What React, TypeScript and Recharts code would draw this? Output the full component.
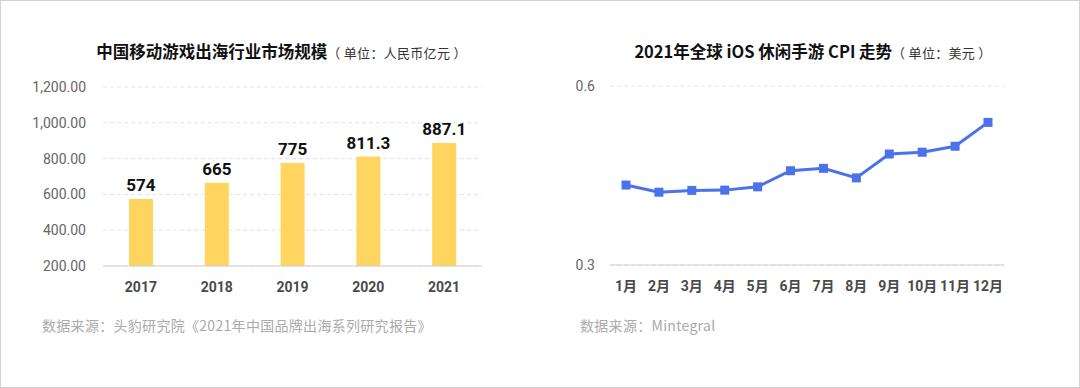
import React from "react";
import { BarChart, Bar, XAxis, YAxis, CartesianGrid, LabelList, LineChart, Line } from "recharts";

const years = ["2017", "2018", "2019", "2020", "2021"];
const marketSize = [574, 665, 775, 811.3, 887.1];
const marketTicks = [200, 400, 600, 800, 1000, 1200];

const months = ["1月", "2月", "3月", "4月", "5月", "6月", "7月", "8月", "9月", "10月", "11月", "12月"];
const cpi = [0.434, 0.422, 0.425, 0.4255, 0.431, 0.458, 0.462, 0.446, 0.486, 0.489, 0.499, 0.539];
const cpiTicks = [0.3, 0.6];

const barData = years.map((y, i) => ({ year: y, value: marketSize[i] }));
const lineData = months.map((m, i) => ({ month: m, value: cpi[i] }));

const CJK = "'Noto Sans CJK SC', 'Noto Sans', sans-serif";
const NUM = "Roboto, 'Noto Sans CJK SC', sans-serif";

const fmt = (v: number) =>
  v.toLocaleString("en-US", { minimumFractionDigits: 2, maximumFractionDigits: 2 });

const Square = (props: any) => {
  const { cx, cy } = props;
  if (cx == null || cy == null) return null;
  return <rect x={cx - 4.5} y={cy - 4.5} width={9} height={9} fill="#4a72ea" />;
};

export default function App() {
  return (
    <div
      style={{
        position: "absolute",
        left: 0,
        top: 0,
        width: 1080,
        height: 388,
        boxSizing: "border-box",
        border: "1px solid #d2d2d2",
        background: "#fff",
        fontFamily: CJK,
        overflow: "hidden",
      }}
    >
      {/* Left title */}
      <div
        style={{
          position: "absolute",
          left: 0,
          width: 561,
          top: 39,
          textAlign: "center",
          whiteSpace: "nowrap",
          lineHeight: "22px",
        }}
      >
        <span style={{ fontSize: 16.5, fontWeight: 700, color: "#111" }}>中国移动游戏出海行业市场规模</span>
        <span style={{ fontSize: 13, color: "#333", letterSpacing: 0.3 }}>（ 单位：人民币亿元 ）</span>
      </div>
      {/* Right title */}
      <div
        style={{
          position: "absolute",
          left: 540,
          width: 544,
          top: 39,
          textAlign: "center",
          whiteSpace: "nowrap",
          lineHeight: "22px",
        }}
      >
        <span style={{ fontSize: 16.5, fontWeight: 700, color: "#111" }}>2021年全球 iOS 休闲手游 CPI 走势</span>
        <span style={{ fontSize: 13, color: "#333", letterSpacing: 0.3 }}>（ 单位：美元 ）</span>
      </div>

      <div style={{ position: "absolute", left: -1, top: -1 }}>
        <BarChart
          width={540}
          height={300}
          data={barData}
          margin={{ top: 87, right: 58, bottom: 4, left: 43 }}
          barSize={24}
        >
          <CartesianGrid vertical={false} stroke="#e2e2e2" strokeDasharray="4 3" />
          <XAxis
            dataKey="year"
            tickLine={false}
            axisLine={{ stroke: "#cfcfcf" }}
            height={30}
            tickMargin={10}
            tick={{ fontSize: 14, fontWeight: 700, fill: "#4a4a4a", fontFamily: NUM }}
          />
          <YAxis
            width={60}
            domain={[200, 1200]}
            ticks={marketTicks}
            tickFormatter={fmt}
            tickLine={false}
            axisLine={false}
            tickMargin={11}
            tick={{ fontSize: 14, fill: "#666", fontFamily: NUM }}
          />
          <Bar dataKey="value" fill="#ffd55f" isAnimationActive={false}>
            <LabelList
              dataKey="value"
              position="top"
              offset={8}
              style={{ fontSize: 17, fontWeight: 700, fill: "#111", fontFamily: NUM }}
            />
          </Bar>
        </BarChart>
      </div>

      <div style={{ position: "absolute", left: 539, top: -1 }}>
        <LineChart
          width={540}
          height={300}
          data={lineData}
          margin={{ top: 86, right: 76, bottom: 5, left: 15 }}
        >
          <CartesianGrid vertical={false} stroke="#e2e2e2" strokeDasharray="4 3" />
          <XAxis
            dataKey="month"
            tickLine={false}
            axisLine={{ stroke: "#cfcfcf" }}
            height={30}
            tickMargin={10}
            padding={{ left: 16, right: 16 }}
            interval={0}
            tick={{ fontSize: 14, fontWeight: 700, fill: "#4a4a4a", fontFamily: NUM }}
          />
          <YAxis
            width={55}
            domain={[0.3, 0.6]}
            ticks={cpiTicks}
            tickLine={false}
            axisLine={false}
            tickMargin={9}
            tick={{ fontSize: 14, fill: "#666", fontFamily: NUM }}
          />
          <Line
            dataKey="value"
            stroke="#4a72ea"
            strokeWidth={3}
            dot={<Square />}
            activeDot={false}
            isAnimationActive={false}
          />
        </LineChart>
      </div>

      <div
        style={{
          position: "absolute",
          left: 41,
          top: 314,
          fontSize: 14,
          color: "#aaa",
          whiteSpace: "nowrap",
          lineHeight: "20px",
          letterSpacing: 0.3,
        }}
      >
        数据来源：头豹研究院《2021年中国品牌出海系列研究报告》
      </div>
      <div
        style={{
          position: "absolute",
          left: 579,
          top: 314,
          fontSize: 14,
          color: "#aaa",
          whiteSpace: "nowrap",
          lineHeight: "20px",
          letterSpacing: 0.3,
        }}
      >
        数据来源：Mintegral
      </div>
    </div>
  );
}
